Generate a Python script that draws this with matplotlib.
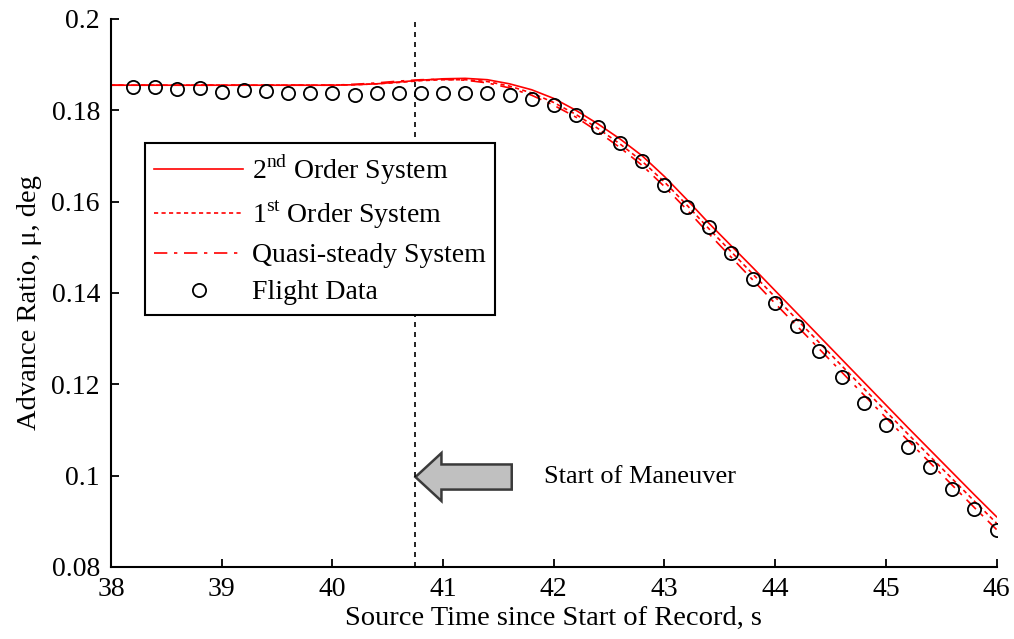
import matplotlib.pyplot as plt
from matplotlib.patches import FancyArrow
from matplotlib.ticker import FormatStrFormatter

plt.rcParams['font.family'] = ['Liberation Serif', 'DejaVu Serif']
plt.rcParams['mathtext.fontset'] = 'custom'
plt.rcParams['mathtext.rm'] = 'Liberation Serif'

# model time base (s)
t_model = [38.0, 38.2, 38.4, 38.6, 38.8, 39.0, 39.2, 39.4, 39.6, 39.8,
           40.0, 40.2, 40.4, 40.6, 40.8, 41.0, 41.2, 41.4, 41.6, 41.8,
           42.0, 42.2, 42.4, 42.6, 42.8, 43.0, 43.2, 43.4, 43.6, 43.8,
           44.0, 44.2, 44.4, 44.6, 44.8, 45.0, 45.2, 45.4, 45.6, 45.8, 46.0]

second_order = [0.1855, 0.1855, 0.1855, 0.1855, 0.1855, 0.1855, 0.1855, 0.1855, 0.1855, 0.1855,
                0.1855, 0.1856, 0.1858, 0.1862, 0.1866, 0.1869, 0.1870, 0.1867, 0.1858, 0.1845,
                0.1826, 0.1800, 0.1770, 0.1737, 0.1700, 0.1655, 0.1605, 0.1553, 0.1504, 0.1455,
                0.1405, 0.1355, 0.1305, 0.1255, 0.1205, 0.1155, 0.1105, 0.1056, 0.1007, 0.0958, 0.0910]

first_order = [0.1855, 0.1855, 0.1855, 0.1855, 0.1855, 0.1855, 0.1855, 0.1855, 0.1855, 0.1855,
               0.1855, 0.1856, 0.1858, 0.1861, 0.1865, 0.1867, 0.1867, 0.1863, 0.1853, 0.1838,
               0.1817, 0.1791, 0.1760, 0.1726, 0.1688, 0.1643, 0.1593, 0.1541, 0.1491, 0.1441,
               0.1391, 0.1341, 0.1291, 0.1241, 0.1191, 0.1141, 0.1091, 0.1042, 0.0993, 0.0944, 0.0896]

quasi_steady = [0.1855, 0.1855, 0.1855, 0.1855, 0.1855, 0.1855, 0.1855, 0.1855, 0.1855, 0.1855,
                0.1855, 0.1857, 0.1860, 0.1864, 0.1867, 0.1868, 0.1866, 0.1860, 0.1849, 0.1833,
                0.1811, 0.1785, 0.1753, 0.1718, 0.1679, 0.1633, 0.1583, 0.1530, 0.1479, 0.1428,
                0.1377, 0.1327, 0.1277, 0.1227, 0.1177, 0.1127, 0.1077, 0.1028, 0.0979, 0.0930, 0.0882]

# flight data
t_flight = [38.2, 38.4, 38.6, 38.8, 39.0, 39.2, 39.4, 39.6, 39.8, 40.0,
            40.2, 40.4, 40.6, 40.8, 41.0, 41.2, 41.4, 41.6, 41.8, 42.0,
            42.2, 42.4, 42.6, 42.8, 43.0, 43.2, 43.4, 43.6, 43.8, 44.0,
            44.2, 44.4, 44.6, 44.8, 45.0, 45.2, 45.4, 45.6, 45.8, 46.0]
mu_flight = [0.1852, 0.1852, 0.1847, 0.1848, 0.1841, 0.1844, 0.1843, 0.1837, 0.1837, 0.1837,
             0.1834, 0.1837, 0.1837, 0.1837, 0.1837, 0.1837, 0.1837, 0.1834, 0.1824, 0.1812,
             0.1790, 0.1763, 0.1728, 0.1689, 0.1637, 0.1589, 0.1545, 0.1487, 0.1430, 0.1379,
             0.1328, 0.1272, 0.1215, 0.1158, 0.1111, 0.1062, 0.1018, 0.0971, 0.0927, 0.0881]

t_start = 40.75

fig = plt.figure(figsize=(10.14, 6.39), dpi=100)
ax = fig.add_axes([0.1095, 0.1127, 0.8733, 0.8576])

ax.plot(t_model, second_order, color='#ff0000', lw=1.2, ls='-', label='2$^\\mathregular{nd}$ Order System')
ax.plot(t_model, first_order, color='#ff0000', lw=1.2, ls=(0, (2.5, 2)), label='1$^\\mathregular{st}$ Order System')
ax.plot(t_model, quasi_steady, color='#ff0000', lw=1.2, ls=(0, (8, 4, 2, 4)), label='Quasi-steady System')
ax.plot(t_flight, mu_flight, 'o', ms=9.5, mfc='none', mec='black', mew=1.3, label='Flight Data')

ax.axvline(t_start, color='black', lw=1.2, ls=(0, (3, 3)))

arrow = FancyArrow(41.62, 0.0997, -0.87, 0, width=0.0055, head_width=0.0105,
                   head_length=0.235, length_includes_head=True,
                   fc='#c0c0c0', ec='#3a3a3a', lw=1.8)
ax.add_patch(arrow)
ax.text(41.91, 0.0997, 'Start of Maneuver', fontsize=19, va='center', ha='left')

ax.set_xlim(38, 46)
ax.set_ylim(0.08, 0.2)
ax.set_xticks([38, 39, 40, 41, 42, 43, 44, 45, 46])
ax.set_yticks([0.08, 0.1, 0.12, 0.14, 0.16, 0.18, 0.2])
ax.yaxis.set_major_formatter(FormatStrFormatter('%g'))

ax.spines['top'].set_visible(False)
ax.spines['right'].set_visible(False)
ax.spines['left'].set_linewidth(1.5)
ax.spines['bottom'].set_linewidth(1.5)
ax.tick_params(direction='in', length=6, width=1.3, labelsize=20)
ax.tick_params(axis='y', pad=8)
ax.tick_params(axis='x', pad=7)

ax.set_xlabel('Source Time since Start of Record, s', fontsize=20.5, labelpad=3)
ax.set_ylabel('Advance Ratio, \u03bc, deg', fontsize=20.5)
ax.yaxis.set_label_coords(-0.078, 0.483)

leg = ax.legend(loc='upper left', bbox_to_anchor=(0.038, 0.774), fontsize=20,
                frameon=True, fancybox=False, edgecolor='black', framealpha=1,
                handlelength=3.2, handletextpad=0.3, labelspacing=0.42,
                borderpad=0.35, borderaxespad=0)
leg.get_frame().set_linewidth(1.5)

plt.savefig('out.png', dpi=100)
